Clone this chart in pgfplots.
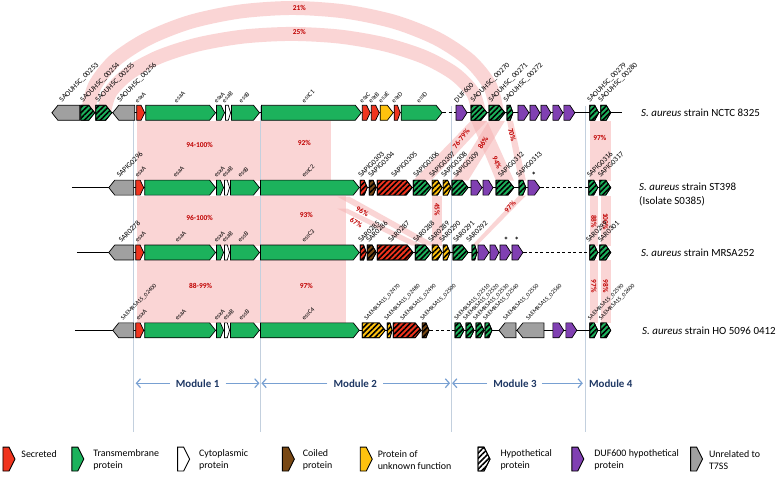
\documentclass[border=0pt]{standalone}
\usepackage{fontspec}
\setmainfont{Carlito}
\usepackage{pgfplots}
\pgfplotsset{compat=1.18}
\usetikzlibrary{patterns,patterns.meta,arrows.meta}
\definecolor{cred}{RGB}{240,52,30}
\definecolor{cgreen}{RGB}{28,178,92}
\definecolor{cyel}{RGB}{255,194,14}
\definecolor{cbrown}{RGB}{120,72,20}
\definecolor{cpurp}{RGB}{128,64,178}
\definecolor{cgray}{RGB}{160,160,160}
\definecolor{cpink}{RGB}{246,180,180}
\definecolor{cdred}{RGB}{192,0,0}
\definecolor{cmod}{RGB}{120,160,210}
\definecolor{cmodt}{RGB}{31,56,100}
\definecolor{cvline}{RGB}{195,208,222}
\tikzset{
 geneg/.style={draw=black,line width=0.7pt,fill=#1},
 geneh/.style={draw=black,line width=0.7pt,fill=#1,postaction={pattern={Lines[angle=45,distance=3.8pt,line width=1.6pt]},pattern color=black}},
 pinkst/.style={fill=cpink,draw=none,fill opacity=0.55},
}
\newcommand\gf[4]{%
 \pgfmathsetmacro\ga{#1}\pgfmathsetmacro\gbb{#2}%
 \pgfmathsetmacro\gh{min(6,0.45*(#2-#1))}%
 \pgfmathsetmacro\gc{#2-\gh}%
 \pgfmathsetmacro\yt{#3-7.5}\pgfmathsetmacro\yb{#3+7.5}%
 \edef\tmp{\noexpand\addplot[\unexpanded{#4}] coordinates {(\ga,\yt) (\gc,\yt) (\gbb,#3) (\gc,\yb) (\ga,\yb)} -- cycle;}\tmp}
\newcommand\gb[4]{%
 \pgfmathsetmacro\ga{#1}\pgfmathsetmacro\gbb{#2}%
 \pgfmathsetmacro\gh{min(6,0.45*(#2-#1))}%
 \pgfmathsetmacro\gc{#1+\gh}%
 \pgfmathsetmacro\yt{#3-7.5}\pgfmathsetmacro\yb{#3+7.5}%
 \edef\tmp{\noexpand\addplot[\unexpanded{#4}] coordinates {(\ga,#3) (\gc,\yt) (\gbb,\yt) (\gbb,\yb) (\gc,\yb)} -- cycle;}\tmp}
\newcommand\leg[2]{%
 \pgfmathsetmacro\la{#1}\pgfmathsetmacro\lb{#1+6}\pgfmathsetmacro\lc{#1+12}%
 \edef\tmp{\noexpand\addplot[\unexpanded{#2}] coordinates {(\la,448) (\lb,448) (\lc,460) (\lb,472) (\la,472)} -- cycle;}\tmp}
\newcommand\pk[1]{\addplot[pinkst] coordinates {#1} -- cycle;}
\newcommand\fa{\fontsize{7.5}{8}\selectfont}
\newcommand\fb{\fontsize{6.5}{7}\selectfont}
\newcommand\fc{\fontsize{6}{7}\selectfont}
\newcommand\fp{\fontsize{7.5}{8}\selectfont\bfseries\color{cdred}}
\newcommand\gl[4]{\node[rotate=45,anchor=south west,inner sep=0.3pt,font=#4] at (axis cs:#1,#2) {#3};}
\newcommand\pl[4]{\node[rotate=#3,inner sep=0pt,font=\fp] at (axis cs:#1,#2) {#4};}
\begin{document}
\begin{tikzpicture}
\begin{axis}[scale only axis, width=779bp, height=478bp, xmin=0, xmax=779, ymin=0, ymax=478,
  y dir=reverse, hide axis, clip=false, no markers]
\addplot[fill=white,draw=none] coordinates {(0,0) (779,0) (779,478) (0,478)} -- cycle;
% arcs
\addplot[smooth, draw=cpink, line width=14bp, draw opacity=0.55] coordinates {(88,113) (95,86) (115,60.5) (148,38.8) (190.5,22) (240,11.6) (293,8) (346,11.6) (395.5,22) (438,38.8) (470.5,60.5) (491,86) (498,113)};
\addplot[smooth, draw=cpink, line width=14bp, draw opacity=0.55] coordinates {(104,113) (110.4,92.6) (129.2,73.5) (159.1,57.1) (198,44.6) (243.3,36.7) (292,34) (340.7,36.7) (386,44.6) (424.9,57.1) (454.8,73.5) (473.6,92.6) (480,113)};
% blocks
\pk{(137,121) (332,121) (332,181) (137,181)}
\pk{(137,196) (347,196) (347,246) (137,246)}
\pk{(137,261) (347,261) (347,324) (137,324)}
\pk{(591,121) (612,121) (612,181) (591,181)}
\pk{(591,196) (599,196) (599,246) (591,246)}
\pk{(602,196) (612,196) (612,246) (602,246)}
\pk{(591,261) (599,261) (599,324) (591,324)}
\pk{(602,261) (612,261) (612,324) (602,324)}
% module 3 bands
\pk{(472,121) (488,121) (432,181) (414,181)}
\pk{(490,121) (506,121) (469,181) (453,181)}
\pk{(472,121) (488,121) (515,181) (497,181)}
\pk{(508,121) (514,121) (527,181) (520,181)}
\pk{(433,196) (443,196) (443,246) (433,246)}
\pk{(520,196) (527,196) (478,246) (473,246)}
\pk{(338,197) (350,197) (438,246) (426,246)}
\pk{(338,209) (348,209) (424,246) (412,246)}
% vertical module lines
\addplot[cvline, line width=0.8pt] coordinates {(134,106) (134,433)};
\addplot[cvline, line width=0.8pt] coordinates {(261,106) (261,433)};
\addplot[cvline, line width=0.8pt] coordinates {(452,106) (452,433)};
\addplot[cvline, line width=0.8pt] coordinates {(587,106) (587,433)};
% row lines
\addplot[black, line width=0.6pt] coordinates {(52,113) (444,113)};
\addplot[black, line width=0.6pt, dash pattern=on 3pt off 2.5pt] coordinates {(444,113) (457,113)};
\addplot[black, line width=0.6pt] coordinates {(457,113) (623,113)};
\addplot[black, line width=0.6pt] coordinates {(72,188) (542,188)};
\addplot[black, line width=0.6pt, dash pattern=on 3pt off 2.5pt] coordinates {(542,188) (590,188)};
\addplot[black, line width=0.6pt] coordinates {(590,188) (612,188)};
\addplot[black, line width=0.6pt] coordinates {(77,253) (525,253)};
\addplot[black, line width=0.6pt, dash pattern=on 3pt off 2.5pt] coordinates {(525,253) (591,253)};
\addplot[black, line width=0.6pt] coordinates {(591,253) (612,253)};
\addplot[black, line width=0.6pt] coordinates {(75,331) (431,331)};
\addplot[black, line width=0.6pt, dash pattern=on 3pt off 2.5pt] coordinates {(431,331) (456,331)};
\addplot[black, line width=0.6pt] coordinates {(456,331) (612,331)};
% row 1
\gb{52}{80}{113}{geneg=cgray}
\gf{81}{95}{113}{geneh=cgreen}
\gf{96}{112}{113}{geneh=cgreen}
\gb{113}{135}{113}{geneg=cgray}
\gf{137}{145}{113}{geneg=cred}
\gf{146}{216}{113}{geneg=cgreen}
\gf{217}{225}{113}{geneg=cgreen}
\gf{226}{231}{113}{geneg=white}
\gf{232}{260}{113}{geneg=cgreen}
\gf{262}{362}{113}{geneg=cgreen}
\gf{363}{371}{113}{geneg=cred}
\gf{372}{380}{113}{geneg=cred}
\gf{381}{394}{113}{geneg=cyel}
\gf{395}{401}{113}{geneg=cred}
\gf{402}{443}{113}{geneg=cgreen}
\gf{457}{468}{113}{geneg=cpurp}
\gf{472}{488}{113}{geneh=cgreen}
\gf{490}{506}{113}{geneh=cgreen}
\gf{508}{514}{113}{geneh=cgreen}
\gf{519}{530}{113}{geneg=cpurp}
\gf{531}{541}{113}{geneg=cpurp}
\gf{542}{552}{113}{geneg=cpurp}
\gf{554}{564}{113}{geneg=cpurp}
\gf{565}{576}{113}{geneg=cpurp}
\gf{591}{600}{113}{geneh=cgreen}
\gf{602}{612}{113}{geneh=cgreen}
% row 2
\gb{109}{134}{188}{geneg=cgray}
\gf{136}{144}{188}{geneg=cred}
\gf{145}{216}{188}{geneg=cgreen}
\gf{217}{224}{188}{geneg=cgreen}
\gf{225}{230}{188}{geneg=white}
\gf{231}{260}{188}{geneg=cgreen}
\gf{261}{360}{188}{geneg=cgreen}
\gf{361}{368}{188}{geneh=cred}
\gf{370}{377}{188}{geneh=cbrown}
\gf{378}{413}{188}{geneh=cred}
\gf{414}{432}{188}{geneh=cgreen}
\gf{433}{443}{188}{geneh=cyel}
\gf{444}{452}{188}{geneh=cyel}
\gf{453}{469}{188}{geneh=cgreen}
\gf{472}{483}{188}{geneg=cpurp}
\gf{484}{494}{188}{geneg=cpurp}
\gf{497}{515}{188}{geneh=cgreen}
\gf{520}{527}{188}{geneh=cgreen}
\gf{529}{541}{188}{geneg=cpurp}
\gf{590}{599}{188}{geneh=cgreen}
\gf{601}{612}{188}{geneh=cgreen}
% row 3
\gb{109}{134}{253}{geneg=cgray}
\gf{136}{144}{253}{geneg=cred}
\gf{145}{216}{253}{geneg=cgreen}
\gf{217}{224}{253}{geneg=cgreen}
\gf{225}{230}{253}{geneg=white}
\gf{231}{260}{253}{geneg=cgreen}
\gf{261}{360}{253}{geneg=cgreen}
\gf{361}{367}{253}{geneh=cred}
\gf{368}{377}{253}{geneh=cbrown}
\gf{378}{414}{253}{geneh=cred}
\gf{416}{432}{253}{geneh=cgreen}
\gf{433}{443}{253}{geneh=cyel}
\gf{444}{451}{253}{geneh=cyel}
\gf{454}{469}{253}{geneh=cgreen}
\gf{473}{478}{253}{geneh=cgreen}
\gf{479}{490}{253}{geneg=cpurp}
\gf{491}{500}{253}{geneg=cpurp}
\gf{501}{512}{253}{geneg=cpurp}
\gf{513}{524}{253}{geneg=cpurp}
\gf{591}{599}{253}{geneh=cgreen}
\gf{601}{612}{253}{geneh=cgreen}
% row 4
\gb{113}{134}{331}{geneg=cgray}
\gf{136}{144}{331}{geneg=cred}
\gf{145}{216}{331}{geneg=cgreen}
\gf{217}{224}{331}{geneg=cgreen}
\gf{225}{230}{331}{geneg=white}
\gf{231}{260}{331}{geneg=cgreen}
\gf{261}{360}{331}{geneg=cgreen}
\gf{363}{386}{331}{geneh=cyel}
\gf{388}{393}{331}{geneh=cyel}
\gf{394}{422}{331}{geneh=cred}
\gf{423}{430}{331}{geneh=cbrown}
\gf{456}{465}{331}{geneh=cgreen}
\gf{467}{475}{331}{geneh=cgreen}
\gf{477}{485}{331}{geneh=cgreen}
\gf{486}{493}{331}{geneh=cgreen}
\gb{500}{517}{331}{geneg=cgray}
\gb{518}{545}{331}{geneg=cgray}
\gf{554}{565}{331}{geneg=cpurp}
\gf{567}{578}{331}{geneg=cpurp}
\gf{591}{599}{331}{geneh=cgreen}
\gf{602}{612}{331}{geneh=cgreen}
% module arrows
\addplot[cmod, line width=1.2pt, -{Straight Barb[length=4pt,width=9pt]}] coordinates {(170,384) (136,384)};
\addplot[cmod, line width=1.2pt, -{Straight Barb[length=4pt,width=9pt]}] coordinates {(226,384) (260,384)};
\addplot[cmod, line width=1.2pt, -{Straight Barb[length=4pt,width=9pt]}] coordinates {(328,384) (262,384)};
\addplot[cmod, line width=1.2pt, -{Straight Barb[length=4pt,width=9pt]}] coordinates {(384,384) (451,384)};
\addplot[cmod, line width=1.2pt, -{Straight Barb[length=4pt,width=9pt]}] coordinates {(488,384) (453,384)};
\addplot[cmod, line width=1.2pt, -{Straight Barb[length=4pt,width=9pt]}] coordinates {(543,384) (584,384)};
% legend glyphs
\leg{3}{geneg=cred, line width=0.9pt}
\leg{72}{geneg=cgreen, line width=0.9pt}
\leg{178}{geneg=white, line width=0.9pt}
\leg{283}{geneg=cbrown, line width=0.9pt}
\leg{361}{geneg=cyel, line width=0.9pt}
\leg{479}{geneh=white, line width=0.9pt}
\leg{573}{geneg=cpurp, line width=0.9pt}
\leg{692}{geneg=cgray, line width=0.9pt}
% percentage labels
\pl{300}{8}{0}{21\%}
\pl{300}{32}{0}{25\%}
\pl{200}{145}{0}{94-100\%}
\pl{305}{143}{0}{92\%}
\pl{200}{218}{0}{96-100\%}
\pl{307}{215}{0}{93\%}
\pl{201}{287}{0}{88-99\%}
\pl{307}{287}{0}{97\%}
\pl{601}{138}{0}{97\%}
\pl{595}{222}{-90}{88\%}
\pl{607}{222}{-90}{100\%}
\pl{595}{287}{-90}{97\%}
\pl{607}{287}{-90}{98\%}
\pl{462}{139}{52}{76-79\%}
\pl{484}{143}{59}{86\%}
\pl{498}{163}{-67}{94\%}
\pl{513}{135}{-75}{70\%}
\pl{438}{210}{-90}{45\%}
\pl{511}{207}{46}{97\%}
\pl{363}{212}{-28}{96\%}
\pl{357}{223}{-30}{67\%}
% gene labels row 1
\gl{63}{104}{SAOUHSC\_00253}{\fa}
\gl{84}{104}{SAOUHSC\_00254}{\fa}
\gl{99}{104}{SAOUHSC\_00255}{\fa}
\gl{121}{104}{SAOUHSC\_00256}{\fa}
\gl{138}{104}{esxA}{\fb}
\gl{177}{104}{esaA}{\fb}
\gl{217}{104}{esxA}{\fb}
\gl{225}{104}{esaB}{\fb}
\gl{242}{104}{essB}{\fb}
\gl{305}{104}{essC1}{\fb}
\gl{363}{104}{esxC}{\fb}
\gl{372}{104}{esxB}{\fb}
\gl{382}{104}{esaE}{\fb}
\gl{395}{104}{esxD}{\fb}
\gl{420}{104}{essD}{\fb}
\gl{458}{104}{DUF600}{\fa}
\gl{475}{104}{SAOUHSC\_00270}{\fa}
\gl{493}{104}{SAOUHSC\_00271}{\fa}
\gl{508}{104}{SAOUHSC\_00272}{\fa}
\gl{592}{104}{SAOUHSC\_00279}{\fa}
\gl{603}{104}{SAOUHSC\_00280}{\fa}
% row 2
\gl{120}{179}{SAPIG0296}{\fa}
\gl{138}{179}{esxA}{\fb}
\gl{176}{179}{esaA}{\fb}
\gl{217}{179}{esxA}{\fb}
\gl{225}{179}{esaB}{\fb}
\gl{241}{179}{essB}{\fb}
\gl{305}{179}{essC2}{\fb}
\gl{362}{179}{SAPIG0303}{\fa}
\gl{372}{179}{SAPIG0304}{\fa}
\gl{395}{179}{SAPIG0305}{\fa}
\gl{417}{179}{SAPIG0306}{\fa}
\gl{433}{179}{SAPIG0307}{\fa}
\gl{445}{179}{SAPIG0308}{\fa}
\gl{457}{179}{SAPIG0309}{\fa}
\gl{502}{179}{SAPIG0312}{\fa}
\gl{520}{179}{SAPIG0313}{\fa}
\gl{591}{179}{SAPIG0316}{\fa}
\gl{602}{179}{SAPIG0317}{\fa}
\node[font=\fontsize{9}{9}\selectfont\bfseries] at (axis cs:535,176) {*};
% row 3
\gl{122}{244}{SAR0278}{\fa}
\gl{138}{244}{esxA}{\fb}
\gl{178}{244}{esaA}{\fb}
\gl{217}{244}{esxA}{\fb}
\gl{225}{244}{esaB}{\fb}
\gl{241}{244}{essB}{\fb}
\gl{305}{244}{essC3}{\fb}
\gl{362}{244}{SAR0285}{\fa}
\gl{370}{244}{SAR0286}{\fa}
\gl{392}{244}{SAR0287}{\fa}
\gl{417}{244}{SAR0288}{\fa}
\gl{432}{244}{SAR0289}{\fa}
\gl{443}{244}{SAR0290}{\fa}
\gl{457}{244}{SAR0291}{\fa}
\gl{470}{244}{SAR0292}{\fa}
\gl{590}{244}{SAR0299}{\fa}
\gl{602}{244}{SAR0301}{\fa}
\node[font=\fontsize{9}{9}\selectfont\bfseries] at (axis cs:507,241) {*};
\node[font=\fontsize{9}{9}\selectfont\bfseries] at (axis cs:518,241) {*};
% row 4
\gl{124}{322}{SAEMRSA15\_02400}{\fc}
\gl{139}{322}{esxA}{\fb}
\gl{178}{322}{esaA}{\fb}
\gl{217}{322}{esxA}{\fb}
\gl{226}{322}{esaB}{\fb}
\gl{242}{322}{essB}{\fb}
\gl{305}{322}{essC4}{\fb}
\gl{368}{322}{SAEMRSA15\_02470}{\fc}
\gl{388}{322}{SAEMRSA15\_02480}{\fc}
\gl{404}{322}{SAEMRSA15\_02490}{\fc}
\gl{424}{322}{SAEMRSA15\_02500}{\fc}
\gl{458}{322}{SAEMRSA15\_02510}{\fc}
\gl{467}{322}{SAEMRSA15\_02520}{\fc}
\gl{477}{322}{SAEMRSA15\_02530}{\fc}
\gl{487}{322}{SAEMRSA15\_02540}{\fc}
\gl{507}{322}{SAEMRSA15\_02550}{\fc}
\gl{530}{322}{SAEMRSA15\_02560}{\fc}
\gl{592}{322}{SAEMRSA15\_02590}{\fc}
\gl{603}{322}{SAEMRSA15\_02600}{\fc}
% strain labels
\node[anchor=west,font=\fontsize{11}{14}\selectfont] at (axis cs:639,113) {\textit{S. aureus} strain NCTC 8325};
\node[anchor=west,font=\fontsize{11}{14}\selectfont,align=left] at (axis cs:637,195) {\textit{S. aureus} strain ST398\\(Isolate S0385)};
\node[anchor=west,font=\fontsize{11}{14}\selectfont] at (axis cs:639,253) {\textit{S. aureus} strain MRSA252};
\node[anchor=west,font=\fontsize{11}{14}\selectfont] at (axis cs:640,331) {\textit{S. aureus} strain HO 5096 0412};
% module names
\node[font=\fontsize{11}{12}\selectfont\bfseries,text=cmodt] at (axis cs:198,384) {Module 1};
\node[font=\fontsize{11}{12}\selectfont\bfseries,text=cmodt] at (axis cs:356,384) {Module 2};
\node[font=\fontsize{11}{12}\selectfont\bfseries,text=cmodt] at (axis cs:516,384) {Module 3};
\node[font=\fontsize{11}{12}\selectfont\bfseries,text=cmodt] at (axis cs:612,384) {Module 4};
% legend texts
\node[anchor=west,font=\fontsize{10}{12}\selectfont] at (axis cs:18,455) {Secreted};
\node[anchor=west,font=\fontsize{10}{12}\selectfont,align=left] at (axis cs:90,461) {Transmembrane\\protein};
\node[anchor=west,font=\fontsize{10}{12}\selectfont,align=left] at (axis cs:196,461) {Cytoplasmic\\protein};
\node[anchor=west,font=\fontsize{10}{12}\selectfont,align=left] at (axis cs:300,461) {Coiled\\protein};
\node[anchor=west,font=\fontsize{10}{12}\selectfont,align=left] at (axis cs:375,461) {Protein of\\unknown function};
\node[anchor=west,font=\fontsize{10}{12}\selectfont,align=left] at (axis cs:498,461) {Hypothetical\\protein};
\node[anchor=west,font=\fontsize{10}{12}\selectfont,align=left] at (axis cs:592,461) {DUF600 hypothetical\\protein};
\node[anchor=west,font=\fontsize{10}{12}\selectfont,align=left] at (axis cs:707,461) {Unrelated to\\T7SS};
\end{axis}
\end{tikzpicture}
\end{document}
